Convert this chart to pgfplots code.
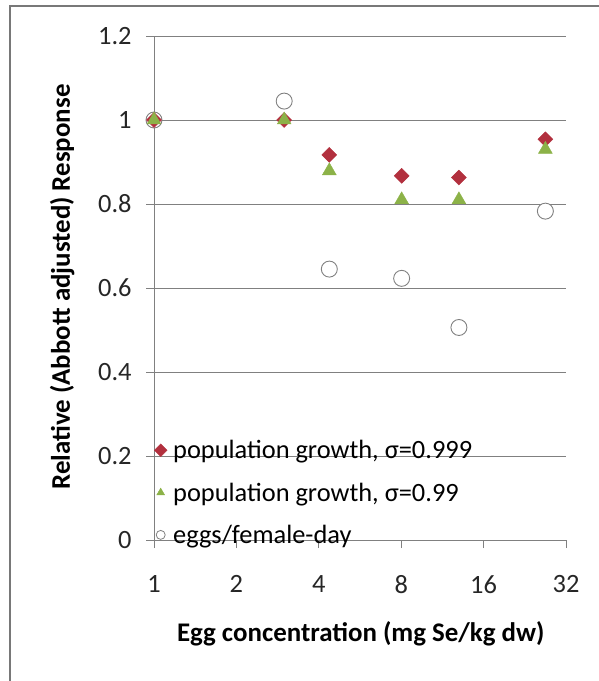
\documentclass[border=0pt]{standalone}
\usepackage{pgfplots}
\pgfplotsset{compat=1.18}
\usepackage{fontspec}
\setmainfont{Carlito}
\definecolor{dred}{RGB}{178,48,62}
\definecolor{olive}{RGB}{140,178,72}
\definecolor{axgray}{RGB}{128,128,128}
\definecolor{frgray}{RGB}{120,120,120}
\pgfplotstableread{
x y
1.0 1.0
2.99 1.0
4.37 0.917
8.03 0.867
13.0 0.863
26.9 0.954
}\sigA
\pgfplotstableread{
x y
1.0 1.0
2.99 1.0
4.37 0.879
8.03 0.81
13.0 0.81
26.9 0.93
}\sigB
\pgfplotstableread{
x y
1.0 1.0
2.99 1.045
4.37 0.645
8.03 0.623
13.0 0.506
26.9 0.783
}\eggs
\begin{document}
\begin{tikzpicture}
\path[use as bounding box] (0bp,0bp) rectangle (599bp,681bp);
\draw[frgray, line width=2.5bp] (10bp,0bp) -- (10bp,675bp) -- (599bp,675bp);
\begin{axis}[
  at={(154bp,141bp)}, anchor=origin,
  scale only axis, width=412bp, height=504bp,
  xmode=log, log basis x=2,
  xmin=1, xmax=32, ymin=0, ymax=1.2,
  xtick={1,2,4,8,16,32}, xticklabels={1,2,4,8,16,32},
  ytick={0,0.2,0.4,0.6,0.8,1.0,1.2},
  yticklabels={0,0.2,0.4,0.6,0.8,1,1.2},
  axis x line*=bottom, axis y line*=left,
  axis line style={axgray, line width=0.8bp, -},
  ymajorgrids, grid style={axgray, line width=0.8bp},
  tick align=outside, major tick length=8bp,
  tick style={axgray, line width=0.8bp},
  tick label style={font=\fontsize{26.5}{30}\selectfont, text=black!85},
  /pgf/number format/assume math mode=true,
  yticklabel style={xshift=-11bp},
  xticklabel style={yshift=-24bp},
  xlabel={Egg concentration (mg Se/kg dw)},
  ylabel={Relative (Abbott adjusted) Response},
  every axis x label/.style={at={(axis description cs:0.502,-0.186)}, anchor=center,
    font=\bfseries\fontsize{27}{31}\selectfont},
  every axis y label/.style={at={(axis description cs:-0.223,0.502)}, anchor=center, rotate=90,
    font=\bfseries\fontsize{27}{31}\selectfont},
  legend style={at={(axis description cs:0,0)}, anchor=south west, draw=none, fill=none,
    font=\fontsize{26.5}{30}\selectfont, row sep=18.5bp, inner sep=0pt, xshift=0bp, yshift=-7bp},
  legend cell align=left,
  legend image code/.code={\path[draw=none] (0bp,0bp) -- (17bp,0bp);\draw[#1, mark size=4.5bp] plot coordinates {(6.5bp,0bp)};},
  clip=false,
]
\addlegendimage{only marks, mark=square*, mark options={rotate=45, fill=dred, draw=dred}}
\addlegendentry{population growth, σ=0.999}
\addlegendimage{only marks, mark=triangle*, mark options={fill=olive, draw=olive}}
\addlegendentry{population growth, σ=0.99}
\addlegendimage{only marks, mark=*, mark options={fill=white, draw=axgray, line width=0.8bp}}
\addlegendentry{eggs/female-day}
\addplot[forget plot, only marks, mark=*, mark size=8bp, mark options={fill=white, draw=axgray, line width=0.9bp}] table[x=x,y=y] {\eggs};
\addplot[forget plot, only marks, mark=square*, mark size=5.3bp, mark options={rotate=45, fill=dred, draw=dred}] table[x=x,y=y] {\sigA};
\addplot[forget plot, only marks, mark=triangle*, mark size=8bp, mark options={fill=olive, draw=olive}] table[x=x,y=y] {\sigB};
\end{axis}
\end{tikzpicture}
\end{document}
